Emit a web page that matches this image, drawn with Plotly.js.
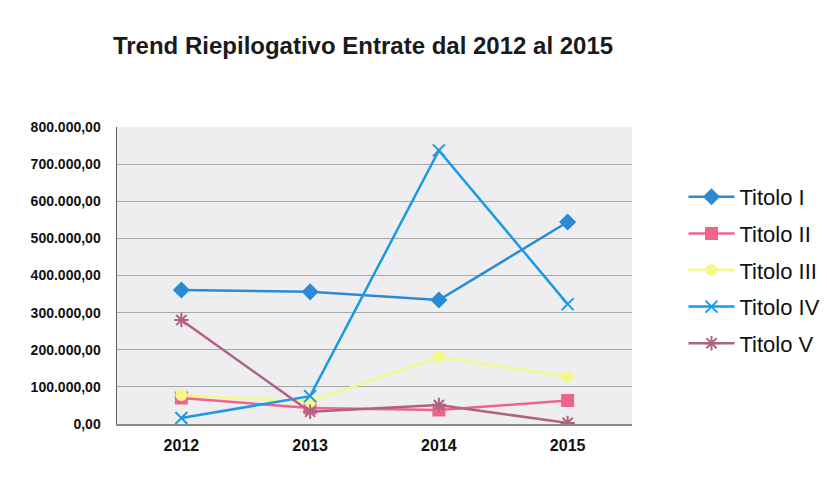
<!DOCTYPE html>
<html><head><meta charset="utf-8">
<script src="https://cdn.plot.ly/plotly-3.0.1.min.js"></script>
<style>body{margin:0;background:#fff}#c{width:827px;height:482px}</style>
</head><body><div id="c"></div>
<script>
const years = ["2012","2013","2014","2015"];
const titoloI   = [361000, 356000, 334000, 544000];
const titoloII  = [70000, 43000, 38000, 63000];
const titoloIII = [78000, 60000, 181000, 127000];
const titoloIV  = [16000, 75000, 737000, 323000];
const titoloV   = [280000, 33000, 51000, 3000];
const yTickVals = [0,100000,200000,300000,400000,500000,600000,700000,800000];
const yTickText = ["0,00","100.000,00","200.000,00","300.000,00","400.000,00","500.000,00","600.000,00","700.000,00","800.000,00"];

function tr(name, y, color, symbol, size, lw){
  return {x: years, y: y, name: name, legendgroup: name, type:'scatter', mode:'lines+markers',
    line:{color:color, width:lw||2.5},
    marker:{symbol:symbol, size:size, color:color, line:{color:color, width:2}}};
}
const data = [
  tr("Titolo I", titoloI, "#2a8ad6", "diamond", 11),
  tr("Titolo II", titoloII, "#f0648c", "square", 11),
  tr("Titolo III", titoloIII, "#f4f88a", "circle", 10),
  tr("Titolo IV", titoloIV, "#1a9ae6", "x-thin-open", 12),
  tr("Titolo V", titoloV, "#b06282", "asterisk-open", 12)
];
const layout = {
  width:827, height:482,
  margin:{l:117, r:195, t:127, b:58, autoexpand:false},
  paper_bgcolor:"#ffffff", plot_bgcolor:"#eeeef0",
  font:{family:"Liberation Sans, Arial, sans-serif", color:"#111"},
  title:{text:"<b>Trend Riepilogativo Entrate dal 2012 al 2015</b>", x:0.439, xanchor:"center", y:0.905, yanchor:"middle", font:{size:24, color:"#1a1a1a"}},
  xaxis:{type:"category", range:[-0.5,3.5], showgrid:false, showline:true, linecolor:"#888", linewidth:1.5,
    tickfont:{size:16, color:"#111", weight:"bold"}, ticks:"", zeroline:false, tickangle:0, ticklabelstandoff:6},
  yaxis:{range:[0,800000], tickvals:yTickVals, ticktext:yTickText, showgrid:true, gridcolor:"#a8a8a8", gridwidth:1,
    showline:true, linecolor:"#666", linewidth:1.5, mirror:false, zeroline:false,
    tickfont:{size:14, color:"#111", weight:"bold"}, ticks:"", ticklabelstandoff:12},
  legend:{x:1.1, xanchor:"left", y:0.835, yanchor:"top", font:{size:22, color:"#111"}, bgcolor:"rgba(0,0,0,0)", itemwidth:46, tracegroupgap:5},
  showlegend:true
};
Plotly.newPlot("c", data, layout, {displayModeBar:false, staticPlot:true});
</script></body></html>
